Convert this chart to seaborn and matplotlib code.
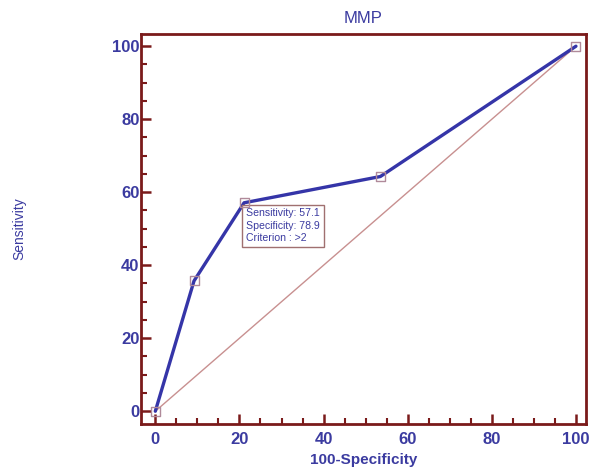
import matplotlib
matplotlib.use("Agg")
import matplotlib.pyplot as plt
import seaborn as sns
import pandas as pd
from matplotlib.ticker import MultipleLocator

# ROC points
fpr = [0, 9.2, 21.1, 53.5, 100]
sensitivity = [0, 35.7, 57.1, 64.3, 100]
x_ticks = [0, 20, 40, 60, 80, 100]
y_ticks = [0, 20, 40, 60, 80, 100]

roc = pd.DataFrame({"fpr": fpr, "sens": sensitivity})
diag = pd.DataFrame({"fpr": [0, 100], "sens": [0, 100]})

sns.set_style("white")
plt.rcParams["font.family"] = ["Liberation Sans", "DejaVu Sans"]

blue = "#3b3ba0"
frame = "#7a1a1a"

fig = plt.figure(figsize=(5.91, 4.68), dpi=100)
ax = fig.add_axes([0.2386, 0.094, 0.7530, 0.833])

sns.lineplot(data=diag, x="fpr", y="sens", ax=ax, color="#c89090", lw=1.0)
sns.lineplot(data=roc, x="fpr", y="sens", ax=ax, color="#3535a8", lw=2.4)
sns.scatterplot(data=roc, x="fpr", y="sens", ax=ax, marker="s", s=42,
                facecolor="none", edgecolor="#b08a9a", linewidth=1.0, zorder=5)

ax.set_xlim(-3.4, 102.4)
ax.set_ylim(-3.5, 103.3)
ax.set_xticks(x_ticks)
ax.set_yticks(y_ticks)
ax.xaxis.set_minor_locator(MultipleLocator(5))
ax.yaxis.set_minor_locator(MultipleLocator(5))
ax.tick_params(which="major", direction="in", length=7, width=1.8, color=frame,
               labelcolor=blue, labelsize=12)
ax.tick_params(axis="x", which="major", pad=6)
ax.tick_params(axis="y", which="major", pad=1)
ax.tick_params(which="minor", direction="in", length=4, width=1.5, color=frame)
ax.tick_params(axis="x", which="both", bottom=True, top=False)
ax.tick_params(axis="y", which="both", left=True, right=False)
for lab in ax.get_xticklabels() + ax.get_yticklabels():
    lab.set_fontweight("bold")

for side in ["left", "bottom", "top", "right"]:
    ax.spines[side].set_color(frame)
    ax.spines[side].set_linewidth(2.0)
    ax.spines[side].set_visible(True)

ax.set_title("MMP", color=blue, fontsize=12, pad=8)
ax.set_xlabel("100-Specificity", color=blue, fontsize=11, fontweight="bold", labelpad=4)
ax.set_ylabel("Sensitivity", color=blue, fontsize=10, labelpad=62)

ax.text(21.6, 55.6,
        "Sensitivity: 57.1\nSpecificity: 78.9\nCriterion : >2",
        color=blue, fontsize=7.6, va="top", ha="left", linespacing=1.3,
        bbox=dict(boxstyle="square,pad=0.35", facecolor="white", edgecolor="#a07070", linewidth=1.0))

fig.savefig("out.png", dpi=100)
